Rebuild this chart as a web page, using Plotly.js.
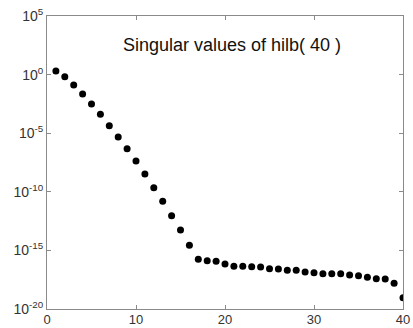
<!DOCTYPE html>
<html>
<head>
<meta charset="utf-8">
<script src="https://cdn.plot.ly/plotly-3.0.1.min.js"></script>
<style>html,body{margin:0;padding:0;background:#fff;}#chart{width:413px;height:328px;}</style>
</head>
<body>
<div id="chart"></div>
<script>
var index = [1,2,3,4,5,6,7,8,9,10,11,12,13,14,15,16,17,18,19,20,21,22,23,24,25,26,27,28,29,30,31,32,33,34,35,36,37,38,39,40];
var log10Sigma = [0.31,-0.18,-0.89,-1.66,-2.51,-3.39,-4.36,-5.32,-6.32,-7.37,
  -8.48,-9.65,-10.81,-12.04,-13.26,-14.57,-15.76,-15.88,-15.93,-16.16,
  -16.36,-16.36,-16.39,-16.42,-16.56,-16.59,-16.70,-16.70,-16.84,-16.90,
  -16.99,-16.99,-16.99,-17.10,-17.16,-17.30,-17.41,-17.44,-17.81,-19.03];
var yTickVals = [1e5, 1e0, 1e-5, 1e-10, 1e-15, 1e-20];
var yTickText = ['10<sup>5</sup>','10<sup>0</sup>','10<sup>-5</sup>','10<sup>-10</sup>','10<sup>-15</sup>','10<sup>-20</sup>'];
var sigma = log10Sigma.map(function(v){ return Math.pow(10, v); });
var titleText = "Singular values of hilb( 40 )";

var trace = {
  x: index, y: sigma, type: 'scatter', mode: 'markers',
  marker: {color: '#000', size: 7}
};
var axisCommon = {
  showgrid: false, zeroline: false, showline: true, linecolor: '#8a8a8a', linewidth: 1,
  mirror: 'ticks', ticks: 'inside', ticklen: 4, tickcolor: '#8a8a8a',
  tickfont: {family: 'Liberation Sans, Arial, sans-serif', size: 14, color: '#333'}
};
var layout = {
  width: 413, height: 328,
  margin: {l: 47, r: 10, t: 16, b: 19},
  paper_bgcolor: '#fff', plot_bgcolor: '#fff',
  showlegend: false,
  xaxis: Object.assign({}, axisCommon, {range: [0, 40], dtick: 10, tick0: 0,
    tickfont: {family: 'Liberation Sans, Arial, sans-serif', size: 13, color: '#333'}, ticklabelstandoff: -2}),
  yaxis: Object.assign({}, axisCommon, {type: 'log', range: [-20, 5], tickmode: 'array', tickvals: yTickVals, ticktext: yTickText}),
  annotations: [{
    text: titleText, xref: 'paper', yref: 'paper', x: 0.52, y: 0.9,
    xanchor: 'center', yanchor: 'middle', showarrow: false,
    font: {family: 'Liberation Sans, Arial, sans-serif', size: 18, color: '#111'}
  }]
};
Plotly.newPlot('chart', [trace], layout, {staticPlot: true, displayModeBar: false});
</script>
</body>
</html>
